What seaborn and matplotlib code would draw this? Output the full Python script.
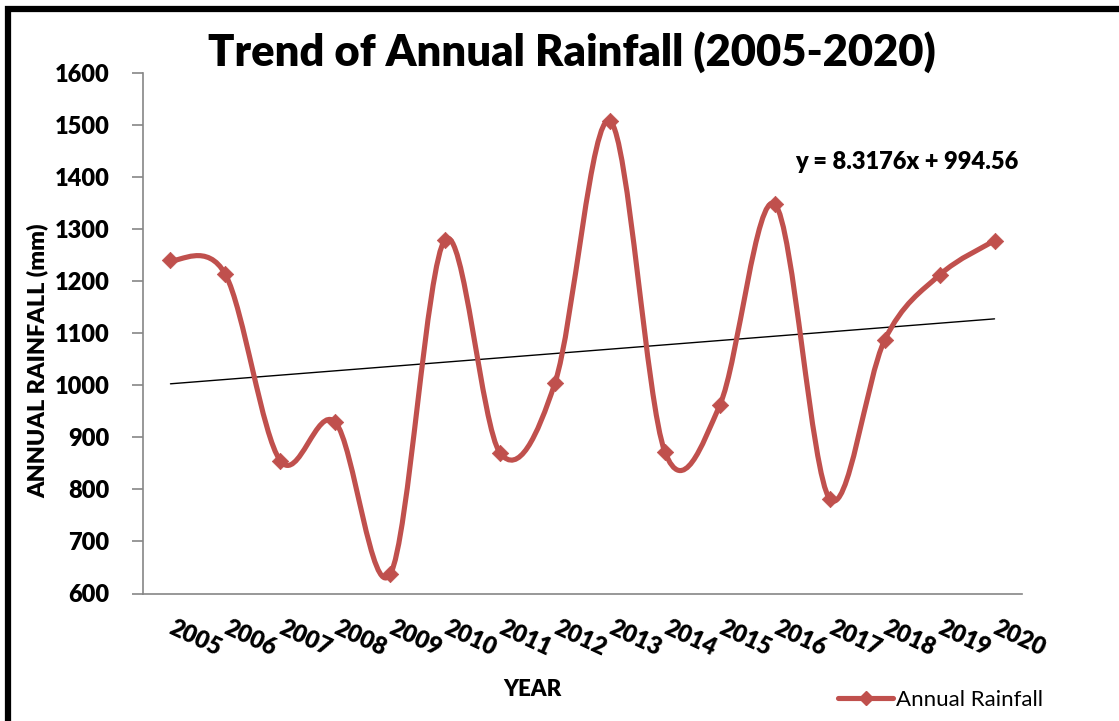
import numpy as np
import matplotlib
matplotlib.use("Agg")
import matplotlib.pyplot as plt
from matplotlib.path import Path
from matplotlib.patches import PathPatch, Rectangle
from matplotlib.lines import Line2D
import seaborn as sns
import pandas as pd

# ---- data ----
years = ["2005", "2006", "2007", "2008", "2009", "2010", "2011", "2012",
         "2013", "2014", "2015", "2016", "2017", "2018", "2019", "2020"]
rainfall = [1240, 1213, 855, 929, 637, 1280, 870, 1005,
            1508, 872, 962, 1348, 782, 1087, 1212, 1278]
trend_slope = 8.3176
trend_intercept = 994.56
y_ticks = [600, 700, 800, 900, 1000, 1100, 1200, 1300, 1400, 1500, 1600]

title_text = "Trend of Annual Rainfall (2005-2020)"
x_label = "YEAR"
y_label = "ANNUAL RAINFALL (mm)"
series_name = "Annual Rainfall"
eq_text = "y = 8.3176x + 994.56"

# ---- style ----
sns.set_style("white")
plt.rcParams["font.family"] = ["Lato", "DejaVu Sans"]
plt.rcParams["text.color"] = "black"
plt.rcParams["axes.labelcolor"] = "black"
plt.rcParams["xtick.color"] = "black"
plt.rcParams["ytick.color"] = "black"

RED = "#C0504D"
GRAY = "#868686"
BW = "heavy"

W, H = 1119, 721
fig = plt.figure(figsize=(W / 100, H / 100), dpi=100)
ax = fig.add_axes([143 / W, 1 - 593.5 / H, (1022 - 143) / W, (593.5 - 73) / H])

df = pd.DataFrame({"pos": np.arange(len(years)), "rain": rainfall})

# smoothed line (Excel-style Bezier smoothing through the data points)
xs = df["pos"].to_numpy(dtype=float)
ys = df["rain"].to_numpy(dtype=float)
pts = np.column_stack([xs, ys])
n = len(pts)
verts = [tuple(pts[0])]
codes = [Path.MOVETO]
for i in range(n - 1):
    p0 = pts[i - 1] if i > 0 else pts[i]
    p1 = pts[i]
    p2 = pts[i + 1]
    p3 = pts[i + 2] if i + 2 < n else pts[i + 1]
    c1 = p1 + (p2 - p0) / 6.0
    c2 = p2 - (p3 - p1) / 6.0
    verts += [tuple(c1), tuple(c2), tuple(p2)]
    codes += [Path.CURVE4] * 3
ax.add_patch(PathPatch(Path(verts, codes), fill=False, edgecolor=RED,
                       linewidth=3.7, capstyle="round", joinstyle="round", zorder=3))

# markers
sns.scatterplot(data=df, x="pos", y="rain", marker="D", s=70, color=RED,
                edgecolor=RED, linewidth=0.5, ax=ax, zorder=4, legend=False)

# linear trend line
tx = np.array([0, len(years) - 1], dtype=float)
ty = trend_slope * (tx + 1) + trend_intercept
sns.lineplot(x=tx, y=ty, color="black", linewidth=1.0, ax=ax, zorder=2)

# axes
ax.set_xlim(-0.5, len(years) - 0.5)
ax.set_ylim(600, 1600)
ax.set_yticks(y_ticks)
ax.set_yticklabels([str(v) for v in y_ticks], fontsize=17, fontweight=BW)
ax.set_xticks(np.arange(len(years)))
ax.set_xticklabels(years, fontsize=17, fontweight=BW, rotation=-25,
                   ha="left", va="center", rotation_mode="anchor")
ax.set_xticks(np.arange(len(years) + 1) - 0.5, minor=True)
ax.tick_params(axis="x", which="major", length=0, pad=24, labelcolor="black")
ax.tick_params(axis="x", which="minor", length=8, width=1.2, color=GRAY, direction="out")
ax.tick_params(axis="y", which="major", length=8, width=1.2, color=GRAY,
               direction="out", pad=16, left=True, labelcolor="black")
ax.set_xlabel("")
ax.set_ylabel("")
for s in ["top", "right"]:
    ax.spines[s].set_visible(False)
for s in ["left", "bottom"]:
    ax.spines[s].set_color(GRAY)
    ax.spines[s].set_linewidth(1.2)
ax.grid(False)

# texts
fig.text(572 / W, 1 - 52 / H, title_text, ha="center", va="center",
         fontsize=31.3, fontweight=BW)
fig.text(532 / W, 1 - 689 / H, x_label, ha="center", va="center",
         fontsize=16, fontweight=BW)
fig.text(38 / W, 1 - 361 / H, y_label, ha="center", va="center", rotation=90,
         fontsize=16.8, fontweight=BW)
fig.text(907 / W, 1 - 162 / H, eq_text, ha="center", va="center",
         fontsize=17, fontweight=BW)

# legend
handle = Line2D([], [], color=RED, linewidth=3.7, marker="D", markersize=7.5)
fig.legend([handle], [series_name], loc="center left",
           bbox_to_anchor=(829 / W, 1 - 700 / H), frameon=False,
           fontsize=16, handlelength=2.5, handletextpad=0.1, borderaxespad=0,
           labelcolor="black")

# outer frame
fig.patches.append(Rectangle((7.5 / W, -0.2), 1.5, 1.2 - 9 / H, transform=fig.transFigure,
                             fill=False, edgecolor="black", linewidth=4.5))

fig.savefig("out.png", dpi=100)
